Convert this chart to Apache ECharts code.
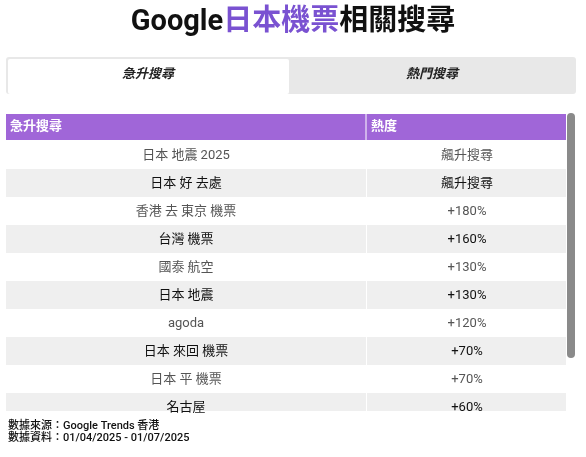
<!DOCTYPE html>
<html><head><meta charset="utf-8">
<script src="https://cdn.jsdelivr.net/npm/echarts@6/dist/echarts.min.js"></script>
<style>html,body{margin:0;padding:0;background:#fff}#c{width:586px;height:457px}</style>
</head><body><div id="c"></div>
<script>
const tabs = ['急升搜尋', '熱門搜尋'];
const headers = ['急升搜尋', '熱度'];
const terms = ['日本 地震 2025', '日本 好 去處', '香港 去 東京 機票', '台灣 機票', '國泰 航空', '日本 地震', 'agoda', '日本 來回 機票', '日本 平 機票', '名古屋'];
const heat = ['飆升搜尋', '飆升搜尋', '+180%', '+160%', '+130%', '+130%', '+120%', '+70%', '+70%', '+60%'];
const footer = ['數據來源：Google Trends 香港', '數據資料：01/04/2025 - 01/07/2025'];

const F = 'Roboto, "Noto Sans CJK TC", sans-serif';
const g = [];
g.push({type:'text', left:'center', top:8, style:{rich:{a:{fontSize:29,fontWeight:'bold',fill:'#111',fontFamily:F},b:{fontSize:29,fontWeight:'bold',fill:'#7a52d1',fontFamily:F}}, text:'{a|Google}{b|日本機票}{a|相關搜尋}'}});
g.push({type:'rect', shape:{x:6,y:57,width:570,height:37,r:3}, style:{fill:'#e8e8e8'}});
g.push({type:'rect', shape:{x:8,y:59,width:281,height:35,r:2}, style:{fill:'#fff'}});
tabs.forEach((t,i)=>g.push({type:'text', x:i?432:148, y:75, style:{text:t, fontSize:13, fontStyle:'italic', fontWeight:'bold', fill:'#222', align:'center', verticalAlign:'middle', fontFamily:F}}));
g.push({type:'rect', shape:{x:6,y:114,width:560,height:26}, style:{fill:'#a066d8'}});
g.push({type:'line', shape:{x1:366,y1:114,x2:366,y2:140}, style:{stroke:'#fff',lineWidth:1}});
headers.forEach((h,i)=>g.push({type:'text', x:i?371:10, y:127, style:{text:h, fontSize:13, fontWeight:'bold', fill:'#fff', verticalAlign:'middle', fontFamily:F}}));
const rh = 28, top0 = 141, bottom = 411;
terms.forEach((t,k)=>{
  const y = top0 + rh*k;
  const even = k%2===1;
  const h = Math.min(rh, bottom - y);
  if (even) {
    g.push({type:'rect', shape:{x:6,y:y,width:360,height:h}, style:{fill:'#efefef'}});
    g.push({type:'rect', shape:{x:367,y:y,width:199,height:h}, style:{fill:'#efefef'}});
  }
  const col = even ? '#111' : '#555';
  g.push({type:'text', x:186, y:y+15, style:{text:t, fontSize:13, fill:col, align:'center', verticalAlign:'middle', fontFamily:F}});
  g.push({type:'text', x:467, y:y+15, style:{text:heat[k], fontSize:13, fill:col, align:'center', verticalAlign:'middle', fontFamily:F}});
});
g.push({type:'rect', shape:{x:567,y:113,width:8,height:245,r:4}, style:{fill:'#8a8a8a'}});
footer.forEach((f,i)=>g.push({type:'text', x:8, y:421+i*12, style:{text:f, fontSize:11, fontWeight:500, fill:'#111', fontFamily:F}}));

const chart = echarts.init(document.getElementById('c'));
chart.setOption({animation:false, graphic:{elements:g}});
</script></body></html>
